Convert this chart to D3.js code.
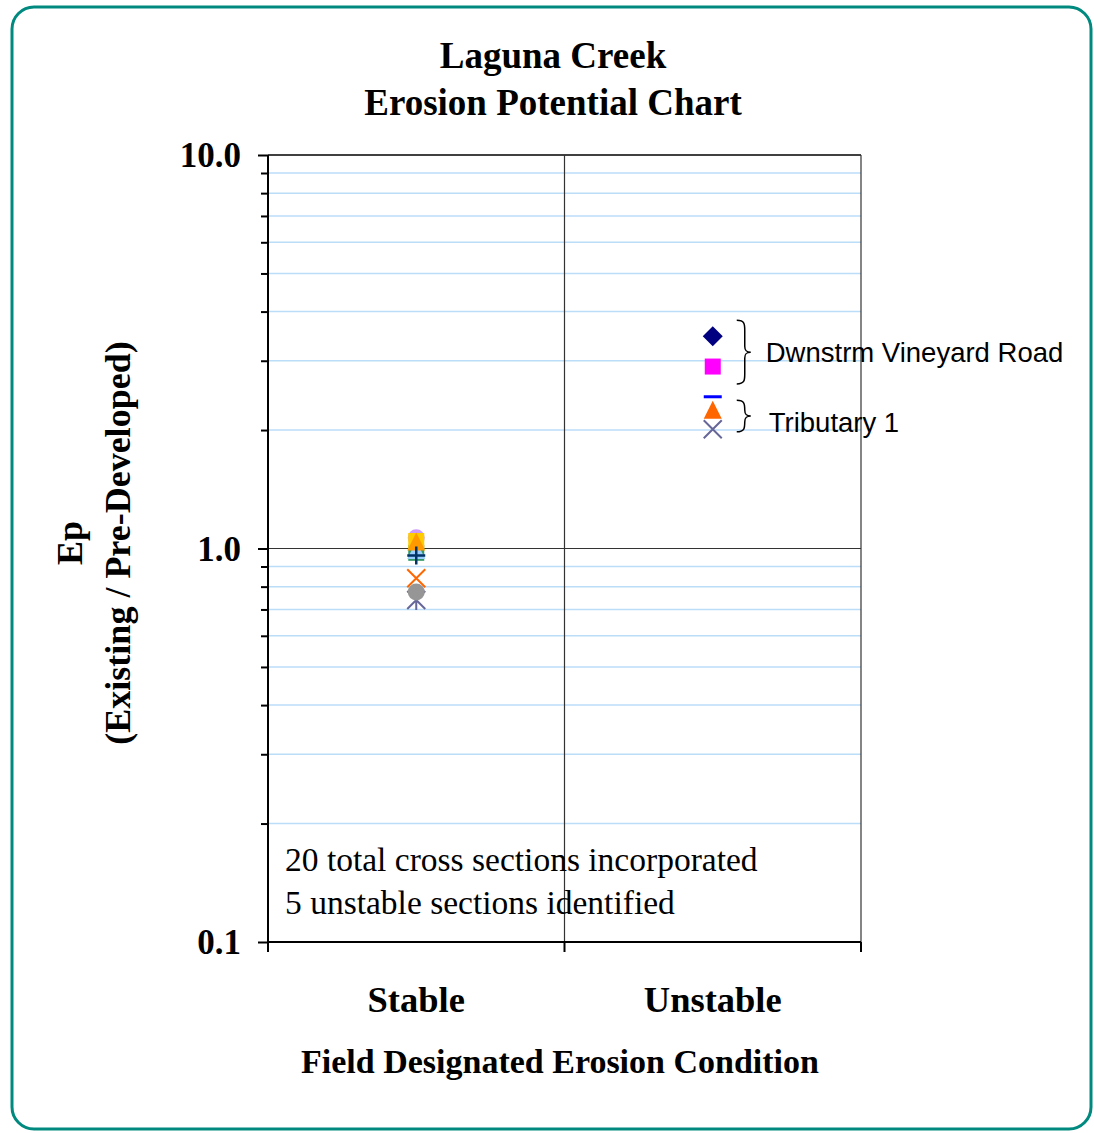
<!DOCTYPE html>
<html>
<head>
<meta charset="utf-8">
<script src="https://cdn.jsdelivr.net/npm/d3@7"></script>
<style>
  body { margin: 0; background: #fff; }
  svg { display: block; }
</style>
</head>
<body>
<div id="chart"></div>
<script>
// categories on the x axis
const categories = ["Stable", "Unstable"];
const yTicks = [0.1, 1, 10];
const yTickLabels = ["0.1", "1.0", "10.0"];

// Ep values per cross section
const stableSeries = [
  { name: "S1", value: 1.065, shape: "circle", color: "#CC99FF" },
  { name: "S2", value: 0.975, shape: "square", color: "#339966" },
  { name: "S3", value: 0.985, shape: "triangle", color: "#99CCFF" },
  { name: "S4", value: 1.045, shape: "square", color: "#FFCC00" },
  { name: "S5", value: 1.035, shape: "triangle", color: "#FF9900" },
  { name: "S6", value: 0.96, shape: "plus", color: "#003366" },
  { name: "S7", value: 0.84, shape: "x", color: "#FF6600" },
  { name: "S8", value: 0.74, shape: "star", color: "#666699" },
  { name: "S9", value: 0.775, shape: "circle", color: "#969696" }
];
const unstableSeries = [
  { name: "U1", value: 3.46, shape: "diamond", color: "#000080" },
  { name: "U2", value: 2.90, shape: "square", color: "#FF00FF" },
  { name: "U3", value: 2.43, shape: "dash", color: "#0000FF" },
  { name: "U4", value: 2.24, shape: "triangle", color: "#FF6600" },
  { name: "U5", value: 2.01, shape: "x", color: "#666699" }
];
const groupLabels = [
  { label: "Dwnstrm Vineyard Road", top: 3.8, bottom: 2.62 },
  { label: "Tributary 1", top: 2.38, bottom: 1.98 }
];
const notes = ["20 total cross sections incorporated", "5 unstable sections identified"];

const width = 1094, height = 1133;
const margin = { top: 155, right: 233, bottom: 191, left: 268 };

const svg = d3.select("#chart").append("svg")
  .attr("width", width)
  .attr("height", height);

// rounded frame
svg.append("rect")
  .attr("x", 12).attr("y", 7)
  .attr("width", 1079).attr("height", 1122)
  .attr("rx", 22)
  .attr("fill", "none")
  .attr("stroke", "#00897F")
  .attr("stroke-width", 3);

const x = d3.scaleBand()
  .domain(categories)
  .range([margin.left, width - margin.right]);

const y = d3.scaleLog()
  .domain([0.1, 10])
  .range([height - margin.bottom, margin.top]);

const x0 = margin.left, x1 = width - margin.right;

// minor gridlines
const minors = [];
[0.1, 1].forEach(d => { for (let k = 2; k <= 9; k++) minors.push(d * k); });

svg.append("g")
  .selectAll("line")
  .data(minors)
  .join("line")
    .attr("x1", x0).attr("x2", x1)
    .attr("y1", d => y(d)).attr("y2", d => y(d))
    .attr("stroke", "#BBDDF8")
    .attr("stroke-width", 1.5);

// major gridline and frame lines
svg.append("line")
  .attr("x1", x0).attr("x2", x1)
  .attr("y1", y(1)).attr("y2", y(1))
  .attr("stroke", "#333").attr("stroke-width", 1.2);
svg.append("line")
  .attr("x1", x0).attr("x2", x1)
  .attr("y1", y(10)).attr("y2", y(10))
  .attr("stroke", "#000").attr("stroke-width", 1.5);
svg.append("line")
  .attr("x1", x(categories[1])).attr("x2", x(categories[1]))
  .attr("y1", y(10)).attr("y2", y(0.1))
  .attr("stroke", "#333").attr("stroke-width", 1.2);
svg.append("line")
  .attr("x1", x1).attr("x2", x1)
  .attr("y1", y(10)).attr("y2", y(0.1))
  .attr("stroke", "#333").attr("stroke-width", 1.2);

// y axis
svg.append("g")
  .attr("transform", `translate(${x0},0)`)
  .call(d3.axisLeft(y).tickValues(yTicks).tickSize(10).tickFormat(""))
  .call(g => g.select(".domain").attr("stroke-width", 2).attr("d", `M0,${y(10)}V${y(0.1)}`))
  .call(g => g.selectAll(".tick line").attr("stroke-width", 2));

svg.append("g")
  .attr("transform", `translate(${x0},0)`)
  .call(d3.axisLeft(y).tickValues(minors).tickSize(7).tickFormat(""))
  .call(g => g.select(".domain").remove())
  .call(g => g.selectAll(".tick line").attr("stroke-width", 2));

const serif = "'Liberation Serif', 'Times New Roman', serif";

svg.append("g")
  .selectAll("text")
  .data(yTicks)
  .join("text")
    .attr("x", 241)
    .attr("y", d => y(d))
    .attr("dy", "0.35em")
    .attr("text-anchor", "end")
    .style("font-family", serif)
    .style("font-weight", "bold")
    .style("font-size", "35px")
    .text((d, i) => yTickLabels[i]);

// x axis
svg.append("g")
  .attr("transform", `translate(0,${y(0.1)})`)
  .call(d3.axisBottom(x).tickSize(0).tickFormat(""))
  .call(g => g.select(".domain").attr("stroke-width", 2).attr("d", `M${x0},0H${x1}`));

svg.append("g")
  .selectAll("line")
  .data([x0, x(categories[1]), x1])
  .join("line")
    .attr("x1", d => d).attr("x2", d => d)
    .attr("y1", y(0.1)).attr("y2", y(0.1) + 10)
    .attr("stroke", "#000").attr("stroke-width", 2);

svg.append("g")
  .selectAll("text")
  .data(categories)
  .join("text")
    .attr("x", d => x(d) + x.bandwidth() / 2)
    .attr("y", 1012)
    .attr("text-anchor", "middle")
    .style("font-family", serif)
    .style("font-weight", "bold")
    .style("font-size", "36.5px")
    .text(d => d);

// titles
const serifBold = g => g
  .style("font-family", serif)
  .style("font-weight", "bold");

svg.append("text").call(serifBold)
  .attr("x", 553).attr("y", 68)
  .attr("text-anchor", "middle")
  .style("font-size", "37px")
  .text("Laguna Creek");
svg.append("text").call(serifBold)
  .attr("x", 553).attr("y", 115)
  .attr("text-anchor", "middle")
  .style("font-size", "37px")
  .text("Erosion Potential Chart");

svg.append("text").call(serifBold)
  .attr("x", 560).attr("y", 1073)
  .attr("text-anchor", "middle")
  .style("font-size", "34px")
  .text("Field Designated Erosion Condition");

svg.append("text").call(serifBold)
  .attr("transform", "translate(82,543) rotate(-90)")
  .attr("text-anchor", "middle")
  .style("font-size", "36px")
  .text("Ep");
svg.append("text").call(serifBold)
  .attr("transform", "translate(130,543) rotate(-90)")
  .attr("text-anchor", "middle")
  .style("font-size", "36px")
  .text("(Existing / Pre-Developed)");

// notes
svg.append("g")
  .selectAll("text")
  .data(notes)
  .join("text")
    .attr("x", 285)
    .attr("y", (d, i) => 871 + i * 43)
    .style("font-family", serif)
    .style("font-size", "33.5px")
    .text(d => d);

// markers
function drawMarker(g, d) {
  const s = d.shape;
  if (s === "circle") {
    g.append("circle").attr("r", 8.5).attr("fill", d.color);
  } else if (s === "square") {
    g.append("path").attr("d", d3.symbol(d3.symbolSquare, 256)()).attr("fill", d.color);
  } else if (s === "diamond") {
    g.append("path").attr("d", "M0,-10L10,0L0,10L-10,0Z").attr("fill", d.color);
  } else if (s === "triangle") {
    g.append("path").attr("d", "M0,-10L9,8L-9,8Z").attr("fill", d.color);
  } else if (s === "dash") {
    g.append("rect").attr("x", -9).attr("y", -1.5).attr("width", 18).attr("height", 3).attr("fill", d.color);
  } else if (s === "plus") {
    g.append("path").attr("d", "M-9,0H9M0,-9V9").attr("stroke", d.color).attr("stroke-width", 2.5);
  } else if (s === "x") {
    g.append("path").attr("d", "M-9,-9L9,9M-9,9L9,-9").attr("stroke", d.color).attr("stroke-width", 2);
  } else if (s === "star") {
    g.append("path").attr("d", "M-9,-9L9,9M-9,9L9,-9M0,-10V10").attr("stroke", d.color).attr("stroke-width", 2);
  }
}

[[categories[0], stableSeries], [categories[1], unstableSeries]].forEach(([cat, series]) => {
  const cx = x(cat) + x.bandwidth() / 2;
  series.forEach(d => {
    const g = svg.append("g").attr("transform", `translate(${cx},${y(d.value)})`);
    drawMarker(g, d);
  });
});

// braces and group labels
const bx = x(categories[1]) + x.bandwidth() / 2 + 24;
function brace(top, bottom) {
  const mid = (top + bottom) / 2, w = 8;
  return `M${bx},${top}C${bx + w},${top} ${bx + w},${top + 4} ${bx + w},${top + 10}` +
    `V${mid - 6}C${bx + w},${mid - 1} ${bx + w + 2},${mid} ${bx + w + 6},${mid}` +
    `C${bx + w + 2},${mid} ${bx + w},${mid + 1} ${bx + w},${mid + 6}` +
    `V${bottom - 10}C${bx + w},${bottom - 4} ${bx + w},${bottom} ${bx},${bottom}`;
}

const labelShift = [0, 6];
groupLabels.forEach((gl, i) => {
  const t = y(gl.top), b = y(gl.bottom);
  svg.append("path")
    .attr("d", brace(t, b))
    .attr("fill", "none")
    .attr("stroke", "#000")
    .attr("stroke-width", 1.5);
  svg.append("text")
    .attr("x", bx + 29 + (i ? 3 : 0))
    .attr("y", (t + b) / 2 + labelShift[i])
    .attr("dy", "0.35em")
    .style("font-family", "'Liberation Sans', Arial, sans-serif")
    .style("font-size", "27.5px")
    .text(gl.label);
});
</script>
</body>
</html>
